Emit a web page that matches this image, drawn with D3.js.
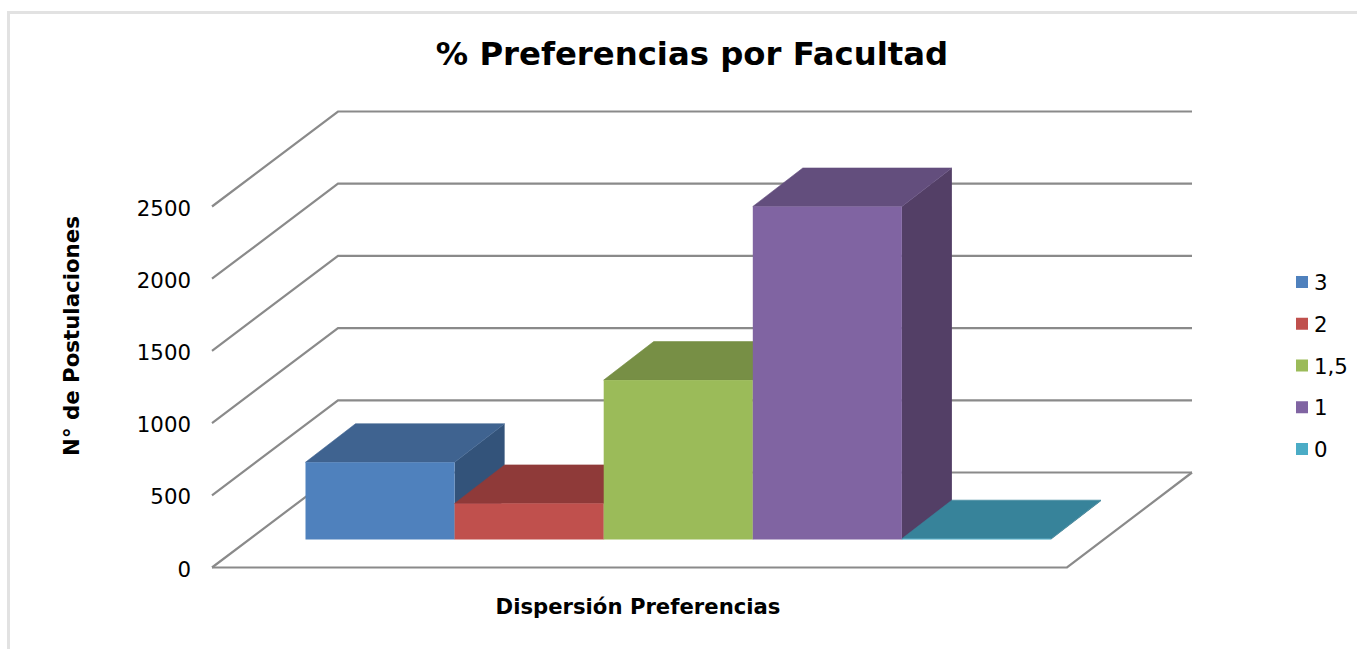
<!DOCTYPE html>
<html><head><meta charset="utf-8">
<script src="https://cdn.jsdelivr.net/npm/d3@7/dist/d3.min.js"></script>
<style>html,body{margin:0;padding:0;background:#fff}svg{display:block}text{font-family:"DejaVu Sans",Verdana,sans-serif;fill:#000}</style>
</head><body><svg id="c" width="1357" height="649"></svg>
<script>
const categories = ["3","2","1,5","1","0"];
const values = [535, 250, 1104, 2306, 6];
const front = ["#4F81BD","#C0504D","#9BBB59","#8064A2","#4BACC6"];
const top_ = ["#3F6390","#8F3A39","#778F45","#634E7D","#37839A"];
const side = ["#33537A","#7A3130","#65793A","#533F66","#2F6F82"];
const tickValues = [0,500,1000,1500,2000,2500];
const titleText = "% Preferencias por Facultad";
const xTitle = "Dispersión Preferencias";
const yTitle = "N° de Postulaciones";

const svg = d3.select("#c");
const dx = 50, dy = -38.5;          // bar depth
const wallDx = 126, wallDy = -95;   // floor depth
const floorL = 212, floorR = 1067, floorY = 567.5;
const barBase = 539.5;
const y = d3.scaleLinear().domain([0,2500]).range([0,361]);
const x = d3.scaleBand().domain(categories).range([305.5,1051]).padding(0);
const line = d3.line();
const grid = svg.append("g").attr("fill","none").attr("stroke","#8a8a8a").attr("stroke-width",2.2);

// chart frame
svg.append("path").attr("d","M8.5,649V12.5H1357").attr("fill","none").attr("stroke","#e2e2e2").attr("stroke-width",3);

tickValues.forEach(t=>{
  const yF = floorY - y(t);
  grid.append("path").attr("d",line([[floorL,yF],[floorL+wallDx,yF+wallDy],[1192,yF+wallDy]]));
});
grid.append("path").attr("d",line([[floorL,floorY],[floorR,floorY],[1192,floorY+wallDy]]));

const bars = svg.append("g");
categories.forEach((c,i)=>{
  const x0 = x(c), x1 = x0 + x.bandwidth(), h = y(values[i]), yT = barBase - h;
  const g = bars.append("g");
  g.append("path").attr("fill",side[i]).attr("d",line([[x1,barBase],[x1+dx,barBase+dy],[x1+dx,yT+dy],[x1,yT]])+"Z");
  g.append("path").attr("fill",top_[i]).attr("stroke",top_[i]).attr("stroke-width",0.6)
    .attr("d",line([[x0,yT],[x0+dx,yT+dy],[x1+dx,yT+dy],[x1,yT]])+"Z");
  g.append("rect").attr("x",x0).attr("y",yT).attr("width",x.bandwidth()).attr("height",h).attr("fill",front[i]);
});

svg.append("g").selectAll("text").data(tickValues).join("text")
  .attr("x",191).attr("y",t=>floorY - y(t) + 9).attr("text-anchor","end")
  .attr("font-size",21.3).text(d=>d);

svg.append("text").attr("x",692).attr("y",65).attr("text-anchor","middle")
  .attr("font-size",32.3).attr("font-weight","bold").text(titleText);
svg.append("text").attr("x",638).attr("y",614).attr("text-anchor","middle")
  .attr("font-size",21.2).attr("font-weight","bold").text(xTitle);
svg.append("text").attr("transform","translate(79,336) rotate(-90)").attr("text-anchor","middle")
  .attr("font-size",21.3).attr("font-weight","bold").text(yTitle);

const lg = svg.append("g");
categories.forEach((c,i)=>{
  const ly = 282 + i*41.75;
  lg.append("rect").attr("x",1296).attr("y",ly-6).attr("width",12).attr("height",12).attr("fill",front[i]);
  lg.append("text").attr("x",1314).attr("y",ly+8).attr("font-size",21.3).text(c);
});
</script></body></html>
